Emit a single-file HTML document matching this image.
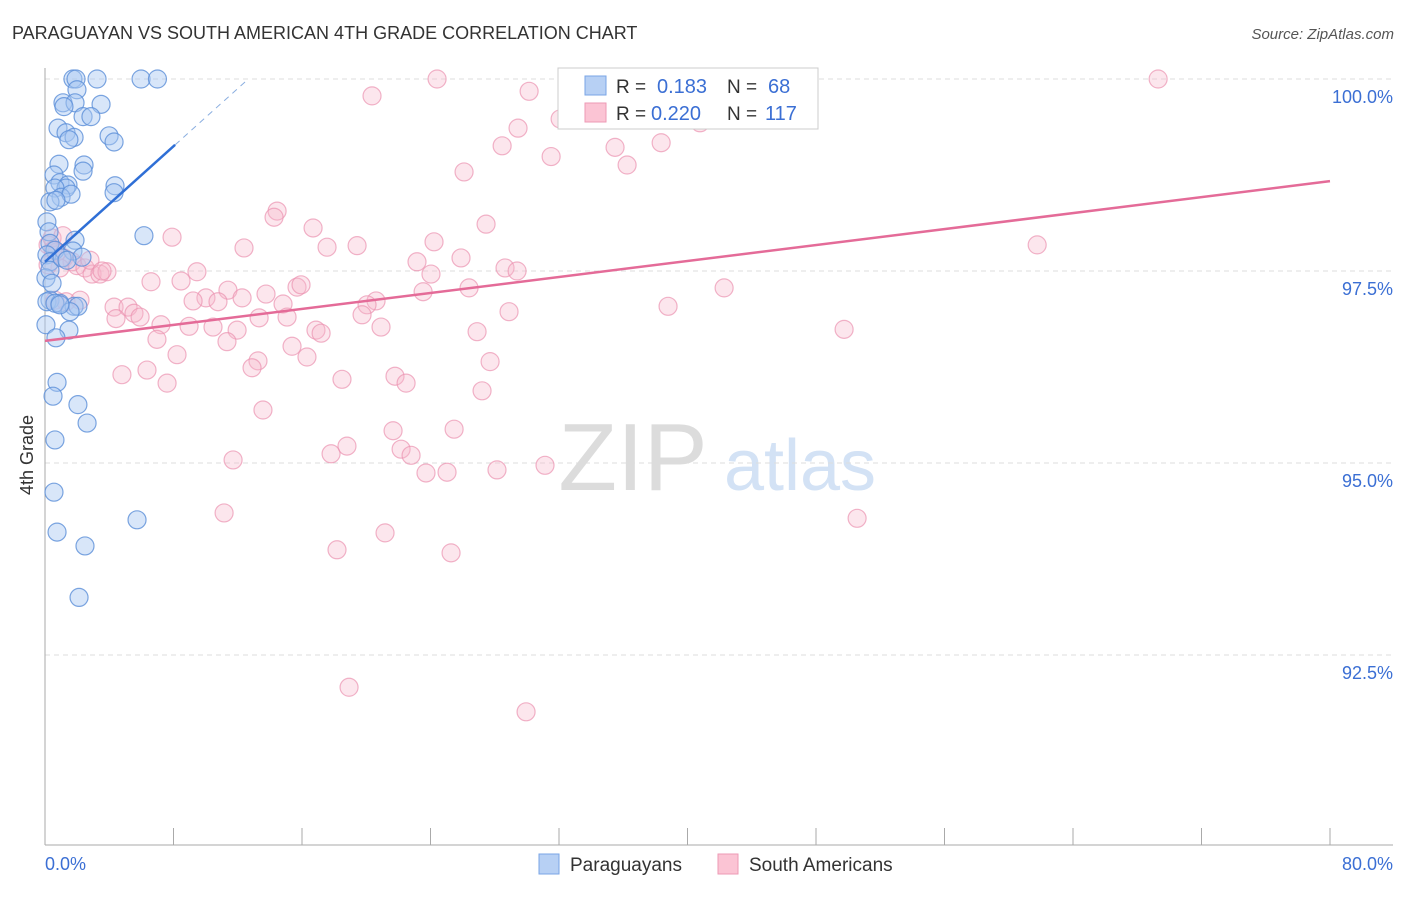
<!DOCTYPE html>
<html><head><meta charset="utf-8"><style>
body{margin:0;background:#fff;font-family:"Liberation Sans",sans-serif;}
svg text{font-family:"Liberation Sans",sans-serif;}
</style></head><body>
<svg id="c" width="1406" height="892">
<text x="12" y="39" font-size="18" fill="#333">PARAGUAYAN VS SOUTH AMERICAN 4TH GRADE CORRELATION CHART</text>
<text x="1394" y="39" font-size="15" fill="#555" font-style="italic" text-anchor="end">Source: ZipAtlas.com</text>
<text x="33" y="455" font-size="18" fill="#333" text-anchor="middle" transform="rotate(-90 33 455)">4th Grade</text>
<g>
<text x="633" y="490" font-size="96" fill="#dcdcdc" font-family="Liberation Serif" text-anchor="middle">ZIP</text>
<text x="800" y="490" font-size="72" fill="#d3e2f5" text-anchor="middle">atlas</text>
</g>
<g id="grid"></g><g id="axes"></g><g id="pts"></g><g id="trend"></g>
<g>
<rect x="558" y="68" width="260" height="61" fill="#fff" stroke="#ccc"/>
<rect x="585" y="76" width="21" height="19" fill="#b7d0f4" stroke="#7aa5e6"/>
<text x="616" y="93" font-size="19" fill="#333">R = </text><text x="657" y="93" font-size="20" fill="#3b6fd4">0.183</text>
<text x="727" y="93" font-size="19" fill="#333">N = </text><text x="768" y="93" font-size="20" fill="#3b6fd4">68</text>
<rect x="585" y="103" width="21" height="19" fill="#fbc4d4" stroke="#ee9ab5"/>
<text x="616" y="120" font-size="19" fill="#333">R = </text><text x="651" y="120" font-size="20" fill="#3b6fd4">0.220</text>
<text x="727" y="120" font-size="19" fill="#333">N = </text><text x="765" y="120" font-size="20" fill="#3b6fd4">117</text>
</g>
<g>
<rect x="539" y="854" width="20" height="20" fill="#b7d0f4" stroke="#7aa5e6"/>
<text x="570" y="871" font-size="19" fill="#333">Paraguayans</text>
<rect x="718" y="854" width="20" height="20" fill="#fbc4d4" stroke="#ee9ab5"/>
<text x="749" y="871" font-size="19" fill="#333">South Americans</text>
</g>
</svg>
<script>
const blueX=[1.74,1.93,3.24,5.98,7.0,1.99,1.12,1.87,3.49,1.18,2.37,2.86,0.81,1.31,1.81,1.49,3.99,4.30,0.87,2.43,2.37,0.56,0.93,1.43,1.31,0.62,1.0,1.62,4.36,4.30,0.31,0.68,0.12,0.25,6.16,1.87,0.31,0.62,1.74,0.12,2.30,0.31,0.06,0.31,0.12,0.93,0.62,1.81,2.05,1.56,0.06,1.49,0.68,0.75,0.5,2.05,2.62,0.62,0.56,5.73,0.75,2.49,2.12,0.31,1.06,1.37,0.44,0.93];
const blueY=[100,100,100,100,100,99.86,99.69,99.69,99.67,99.64,99.51,99.51,99.36,99.30,99.24,99.21,99.26,99.18,98.89,98.88,98.80,98.75,98.65,98.62,98.58,98.58,98.46,98.50,98.61,98.52,98.40,98.42,98.14,98.01,97.96,97.90,97.86,97.77,97.76,97.71,97.68,97.62,97.41,97.12,97.10,97.08,97.08,97.04,97.04,96.97,96.80,96.73,96.63,96.05,95.87,95.76,95.52,95.30,94.62,94.26,94.10,93.92,93.25,97.51,97.67,97.64,97.34,97.06];
const pinkX=[24.41,32.63,69.30,20.36,30.14,32.07,40.78,29.45,28.46,31.51,35.49,38.36,36.24,26.09,14.45,14.26,27.46,16.69,7.91,24.22,12.39,17.56,19.43,25.90,23.16,28.64,29.39,24.03,61.77,9.46,8.47,6.60,15.69,15.94,26.40,42.28,13.76,11.39,10.02,12.27,10.77,9.22,20.61,20.05,23.54,38.79,28.89,4.30,5.17,5.54,5.92,4.42,7.22,8.97,10.46,11.96,13.33,14.82,15.07,19.74,20.92,16.87,17.19,26.90,49.75,6.97,11.33,15.38,16.31,8.22,13.26,12.89,6.35,4.79,7.60,18.49,21.79,22.48,27.71,27.21,13.57,21.67,25.47,18.80,17.81,22.17,22.79,11.71,31.13,28.14,23.72,25.03,11.15,50.56,18.18,21.17,25.28,18.93,29.95,0.19,0.44,0.75,1.18,1.68,1.99,2.49,2.93,3.42,3.86,0.93,0.62,1.31,2.18,2.80,0.19,0.50,3.55,1.12];
const pinkY=[100,100,100,99.78,99.84,99.48,99.43,99.36,99.13,98.99,99.11,99.17,98.88,98.79,98.28,98.20,98.11,98.06,97.94,97.88,97.80,97.81,97.83,97.67,97.62,97.54,97.50,97.46,97.84,97.49,97.37,97.36,97.29,97.32,97.28,97.28,97.20,97.25,97.15,97.15,97.10,97.11,97.11,97.06,97.23,97.04,96.97,97.03,97.03,96.95,96.90,96.88,96.80,96.78,96.77,96.73,96.89,97.07,96.90,96.93,96.77,96.73,96.69,96.71,96.74,96.61,96.58,96.52,96.38,96.41,96.33,96.24,96.21,96.15,96.04,96.09,96.13,96.04,96.32,95.94,95.69,95.42,95.44,95.22,95.12,95.18,95.10,95.04,94.97,94.91,94.87,94.88,94.35,94.28,93.87,94.09,93.83,92.08,91.76,97.84,97.93,97.75,97.67,97.62,97.57,97.54,97.46,97.46,97.49,97.54,97.12,97.10,97.12,97.64,97.58,97.77,97.50,97.96];
const yTicks=[100,97.5,95,92.5];
const yTickLabels=["100.0%","97.5%","95.0%","92.5%"];
const xTicks=[0,8,16,24,32,40,48,56,64,72,80];
const blueTrend=[97.62,0.188];
const pinkTrend=[96.59,0.026];
const NS="http://www.w3.org/2000/svg";
const sx=v=>45+v/80*1285;
const sy=v=>79+(100-v)*76.8;
function mk(tag,attrs,parent){const e=document.createElementNS(NS,tag);for(const k in attrs)e.setAttribute(k,attrs[k]);document.getElementById(parent).appendChild(e);return e;}
yTicks.forEach((t,i)=>{
 const l=mk('line',{x1:45,x2:1393,y1:sy(t),y2:sy(t),stroke:'#ddd','stroke-dasharray':'5,4'},'grid');
 
 
 const tx=mk('text',{x:1393,y:sy(t)+24,'font-size':18,fill:'#3b6fd4','text-anchor':'end'},'grid');
 tx.textContent=yTickLabels[i];
 
 
});
let a=mk('line',{x1:45,x2:45,y1:68,y2:845,stroke:'#aaa'},'axes');


a=mk('line',{x1:45,x2:1393,y1:845,y2:845,stroke:'#aaa'},'axes');


xTicks.forEach(t=>{const l=mk('line',{x1:sx(t),x2:sx(t),y1:828,y2:845,stroke:'#aaa'},'axes');
 
 });
let tl=mk('text',{x:45,y:870,'font-size':18,fill:'#3b6fd4'},'axes');tl.textContent="0.0%";


tl=mk('text',{x:1393,y:870,'font-size':18,fill:'#3b6fd4','text-anchor':'end'},'axes');tl.textContent="80.0%";


pinkX.forEach((x,i)=>{const c=mk('circle',{cx:sx(x),cy:sy(pinkY[i]),r:9,fill:'#f7b6ca','fill-opacity':0.35,stroke:'#eb93b0','stroke-opacity':0.7,'stroke-width':1.2},'pts');
 
 });
blueX.forEach((x,i)=>{const c=mk('circle',{cx:sx(x),cy:sy(blueY[i]),r:9,fill:'#a9c8f1','fill-opacity':0.45,stroke:'#5b8fd8','stroke-opacity':0.8,'stroke-width':1.2},'pts');
 
 });
let t=mk('line',{x1:sx(0),y1:sy(blueTrend[0]),x2:sx(8.1),y2:sy(blueTrend[0]+blueTrend[1]*8.1),stroke:'#2f6fd6','stroke-width':2.5},'trend');


t=mk('line',{x1:sx(8.1),y1:sy(blueTrend[0]+blueTrend[1]*8.1),x2:sx(12.6),y2:sy(blueTrend[0]+blueTrend[1]*12.6),stroke:'#8aaee0','stroke-width':1,'stroke-dasharray':'6,5'},'trend');


t=mk('line',{x1:sx(0),y1:sy(pinkTrend[0]),x2:sx(80),y2:sy(pinkTrend[0]+pinkTrend[1]*80),stroke:'#e46b98','stroke-width':2.5},'trend');


</script>
</body></html>
